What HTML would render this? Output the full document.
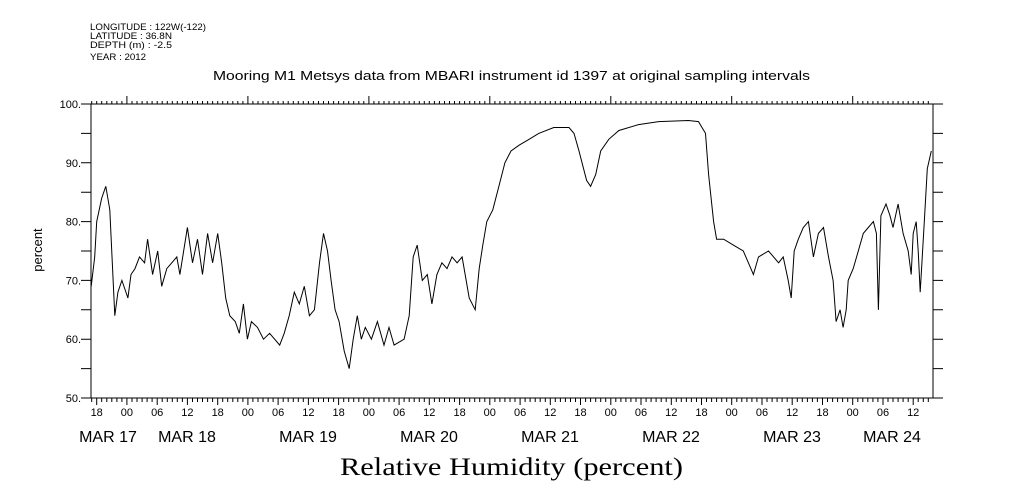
<!DOCTYPE html>
<html><head><meta charset="utf-8"><style>body{margin:0;background:#fff}svg{display:block;font-family:"Liberation Sans",sans-serif}</style></head><body>
<svg id="c" width="1009" height="504" viewBox="0 0 1009 504">
<g font-size="9" fill="#000">
<text x="90" y="30" textLength="116" lengthAdjust="spacingAndGlyphs">LONGITUDE : 122W(-122)</text>
<text x="90" y="39" textLength="82" lengthAdjust="spacingAndGlyphs">LATITUDE : 36.8N</text>
<text x="90" y="48" textLength="82" lengthAdjust="spacingAndGlyphs">DEPTH (m) : -2.5</text>
<text x="90" y="60" textLength="56" lengthAdjust="spacingAndGlyphs">YEAR : 2012</text>
</g>
<text x="213" y="80" font-size="13" textLength="597" lengthAdjust="spacingAndGlyphs">Mooring M1 Metsys data from MBARI instrument id 1397 at original sampling intervals</text>
<text x="340" y="475" font-size="25" font-family="Liberation Serif, serif" textLength="343" lengthAdjust="spacingAndGlyphs">Relative Humidity (percent)</text>
<text transform="translate(42,250) rotate(-90)" text-anchor="middle" font-size="13">percent</text>
<g id="axes"></g>
<path id="line" fill="none" stroke="#000" stroke-width="1"/>
</svg>
<script>
const hours=[16.9,17.6,18.0,19.0,19.8,20.6,21.6,22.2,23.0,24.2,24.8,25.6,26.5,27.5,28.1,29.1,30.1,30.9,31.9,32.9,33.9,34.5,36.0,37.0,38.0,39.0,40.0,41.0,42.0,42.8,43.6,44.4,45.5,46.3,47.1,47.9,48.7,49.9,51.1,52.3,54.3,55.2,56.2,57.2,58.2,59.2,60.2,61.2,62.2,63.0,63.8,64.5,65.3,66.1,67.1,68.1,68.9,69.7,70.5,71.3,72.5,73.7,75.0,76.0,77.0,79.0,80.0,80.8,81.6,82.6,83.6,84.5,85.5,86.5,87.5,88.5,89.5,90.5,91.9,93.1,93.9,94.6,95.4,96.6,97.8,99.0,100.2,101.8,103.8,105.7,108.7,111.7,112.7,113.7,115.2,116.0,117.0,118.0,119.6,121.6,125.5,129.5,135.4,137.4,138.8,139.4,140.4,141.0,142.4,144.3,146.3,147.3,148.3,149.3,151.3,153.3,154.2,155.2,155.8,156.4,157.2,158.2,159.2,160.2,161.2,162.2,163.2,164.1,164.7,165.5,166.1,166.7,167.1,168.1,169.1,170.1,171.1,172.1,172.7,173.1,173.6,174.6,175.4,176.0,177.0,178.0,179.0,179.6,180.0,180.6,181.0,181.4,182.2,182.8,183.6];
const humidity=[69,74,80,84,86,82,64,68,70,67,71,72,74,73,77,71,75,69,72,73,74,71,79,73,77,71,78,73,78,73,67,64,63,61,66,60,63,62,60,61,59,61,64,68,66,69,64,65,73,78,75,70,65,63,58,55,60,64,60,62,60,63,59,62,59,60,64,74,76,70,71,66,71,73,72,74,73,74,67,65,72,76,80,82,86,90,92,93,94,95,96,96,95,92,87,86,88,92,94,95.5,96.5,97,97.2,97,95,88,80,77,77,76,75,73,71,74,75,73,74,70,67,75,77,79,80,74,78,79,74,70,63,65,62,65,70,72,75,78,79,80,78,65,81,83,81,79,83,78,75,71,78,80,75,68,80,89,92];
const dayLabels=["MAR 17","MAR 18","MAR 19","MAR 20","MAR 21","MAR 22","MAR 23","MAR 24"];
const yTicks=[50,60,70,80,90,100];
const H0=16.87,H1=183.93,L=91,R=933,T=104,B=398;
const xs=h=>L+(h-H0)/(H1-H0)*(R-L);
const ys=v=>B-(v-50)/50*(B-T);
const NS="http://www.w3.org/2000/svg",ax=document.getElementById('axes');
function mk(tag,at,txt){const e=document.createElementNS(NS,tag);for(const k in at)e.setAttribute(k,at[k]);if(txt!==undefined)e.textContent=txt;ax.appendChild(e);return e;}
let d="";
const f=mk('rect',{x:L,y:T,width:R-L,height:B-T,fill:'none',stroke:'#000','stroke-width':1});


for(let h=Math.ceil(H0);h<=H1;h++){const x=xs(h).toFixed(1);
 const big=h%6===0,day=h%24===0;
 d+=`M${x},${B}v${big?7:4}M${x},${T}v${day?-8:-3}`;
 if(big){const t=mk('text',{x:x,y:B+18,'text-anchor':'middle','font-size':11},String(h%24).padStart(2,'0'));
  
  }
}
const dayX=[108,187,308,429,550,671,792,892];
dayLabels.forEach((s,i)=>{const t=mk('text',{x:dayX[i],y:B+44,'text-anchor':'middle','font-size':16},s);
 
 });
for(let v=50;v<=100;v+=5){const y=ys(v).toFixed(1);d+=`M${L},${y}h-10M${R},${y}h10`;}
yTicks.forEach(v=>{const t=mk('text',{x:L-10,y:ys(v)+4,'text-anchor':'end','font-size':11},v+".");
 
 });
const tk=mk('path',{d:d,stroke:'#000','stroke-width':1,fill:'none'});


document.getElementById('line').setAttribute('d',hours.map((h,i)=>(i?'L':'M')+xs(h).toFixed(1)+','+ys(humidity[i]).toFixed(1)).join(''));
</script>
</body></html>
